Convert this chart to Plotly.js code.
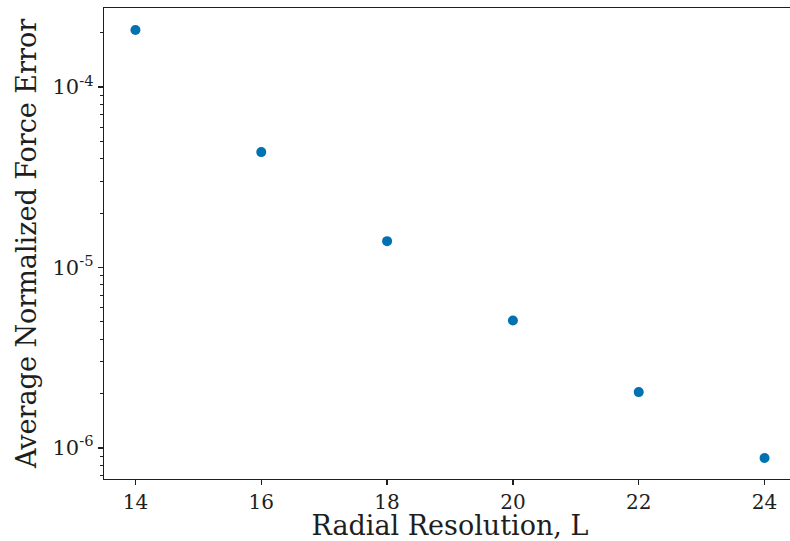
<!DOCTYPE html>
<html>
<head>
<meta charset="utf-8">
<script src="https://cdn.plot.ly/plotly-3.0.1.min.js"></script>
<style>
  html, body { margin: 0; padding: 0; overflow: hidden; background: #fff; }
  #chart { width: 800px; height: 541px; }
</style>
</head>
<body>
<div id="chart"></div>
<script>
// Radial resolution L and the mean normalized force error at each value
const resolution = [14, 16, 18, 20, 22, 24];
const forceError = [2.07e-4, 4.36e-5, 1.40e-5, 5.08e-6, 2.04e-6, 8.8e-7];

// Decade labels on the log axis
const yTickVals = [1e-6, 1e-5, 1e-4];
const yTickText = ['10<sup>-6</sup>', '10<sup>-5</sup>', '10<sup>-4</sup>'];
const xTickVals = [14, 16, 18, 20, 22, 24];

// Minor ticks at 2..9 within each decade of the visible range
const minorVals = [];
for (let e = -7; e <= -3; e++) {
  for (let m = 2; m <= 9; m++) minorVals.push(m * Math.pow(10, e));
}

const serif = 'DejaVu Serif, serif';
const ink = '#1e1e1e';
const yRange = [-6.172, -3.562];

const points = {
  x: resolution,
  y: forceError,
  type: 'scatter',
  mode: 'markers',
  marker: { color: '#0072b2', size: 10, symbol: 'circle' },
  hoverinfo: 'x+y'
};

const layout = {
  width: 800,
  height: 541,
  margin: { l: 104, r: 4, t: 8, b: 62 },
  paper_bgcolor: '#ffffff',
  plot_bgcolor: '#ffffff',
  showlegend: false,
  font: { family: serif, color: ink, size: 20 },
  xaxis: {
    range: [13.5, 24.5],
    tickmode: 'array',
    tickvals: xTickVals,
    ticks: 'outside',
    ticklen: 5,
    tickwidth: 1.2,
    tickcolor: ink,
    showgrid: false,
    zeroline: false,
    showline: true,
    linecolor: ink,
    linewidth: 1.3,
    mirror: true,
    tickfont: { family: serif, size: 20, color: ink },
    title: { text: 'Radial Resolution, L', font: { family: serif, size: 27, color: ink }, standoff: 6 }
  },
  yaxis: {
    type: 'log',
    range: yRange,
    tickmode: 'array',
    tickvals: yTickVals,
    ticktext: yTickText,
    ticks: 'outside',
    ticklen: 5,
    tickwidth: 1.2,
    tickcolor: ink,
    minor: {
      tickmode: 'array',
      tickvals: minorVals,
      ticks: 'outside',
      ticklen: 3,
      tickwidth: 1,
      tickcolor: ink,
      showgrid: false
    },
    showgrid: false,
    zeroline: false,
    showline: true,
    linecolor: ink,
    linewidth: 1.3,
    mirror: true,
    tickfont: { family: serif, size: 21, color: ink },
    title: { text: 'Average Normalized Force Error', font: { family: serif, size: 27, color: ink }, standoff: 8 }
  }
};

Plotly.newPlot('chart', [points], layout, { displayModeBar: false, staticPlot: true });
</script>
</body>
</html>
